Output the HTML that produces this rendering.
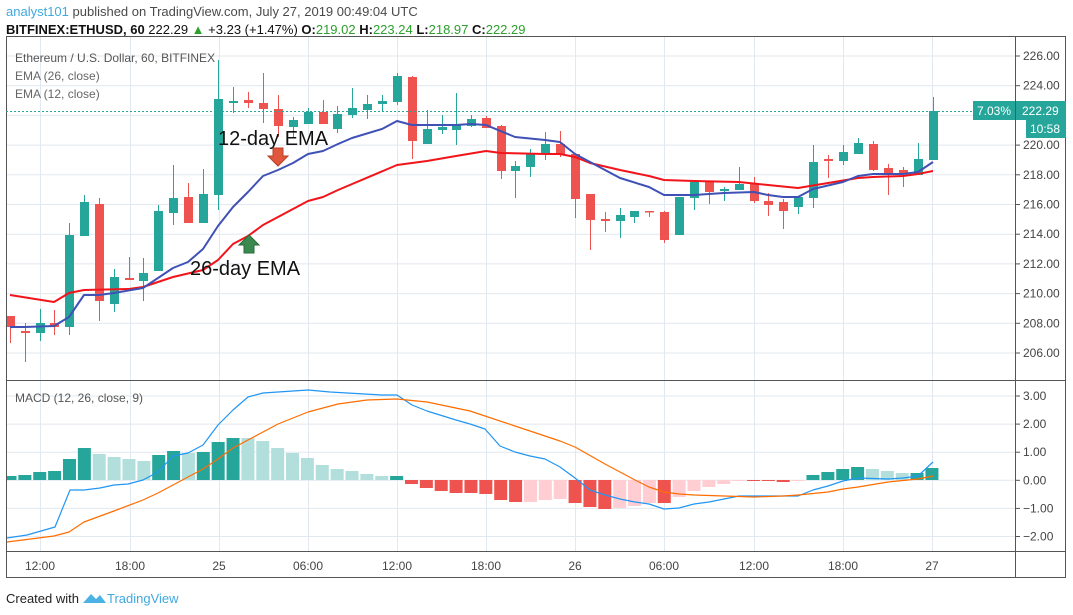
<!DOCTYPE html>
<html><head><meta charset="utf-8"><style>
html,body{margin:0;padding:0;background:#fff;width:1073px;height:615px;overflow:hidden;font-family:"Liberation Sans",sans-serif}
svg{position:absolute;left:0;top:0}
</style></head><body>
<svg id="s" width="1073" height="615" xmlns="http://www.w3.org/2000/svg" font-family="Liberation Sans, sans-serif">
<defs><clipPath id="cp"><rect x="7" y="381" width="1008" height="170"/></clipPath></defs>
<text x="6" y="16" font-size="13" fill="#4a4a4a"><tspan fill="#3fa9e0">analyst101</tspan> published on TradingView.com, July 27, 2019 00:49:04 UTC</text>
<text x="6" y="34" font-size="13" fill="#111" font-weight="bold">BITFINEX:ETHUSD, 60 <tspan font-weight="normal">222.29 </tspan><tspan fill="#2ca02c" font-weight="normal">▲</tspan><tspan font-weight="normal"> +3.23 (+1.47%) </tspan>O:<tspan fill="#2ca02c" font-weight="normal">219.02</tspan> H:<tspan fill="#2ca02c" font-weight="normal">223.24</tspan> L:<tspan fill="#2ca02c" font-weight="normal">218.97</tspan> C:<tspan fill="#2ca02c" font-weight="normal">222.29</tspan></text>
<g id="grid" stroke="#e1e8ef" stroke-width="1"></g>
<g id="hist" clip-path="url(#cp)"></g>
<g id="cand"></g>
<g id="lines" fill="none"></g>
<rect x="6.5" y="36.5" width="1059" height="541" fill="none" stroke="#555" stroke-width="1"/>
<line x1="1015.5" y1="36" x2="1015.5" y2="578" stroke="#555"/>
<line x1="6" y1="380.5" x2="1066" y2="380.5" stroke="#555"/>
<line x1="6" y1="551.5" x2="1066" y2="551.5" stroke="#555"/>
<line x1="6" y1="111.5" x2="1015" y2="111.5" stroke="#26a69a" stroke-dasharray="2,2"/>
<g font-size="12" fill="#444" id="plab"></g>
<rect x="973" y="101" width="42" height="19" fill="#26a69a"/>
<text x="1011" y="115" font-size="12" fill="#fff" text-anchor="end">7.03%</text>
<rect x="1016" y="101" width="50" height="19" fill="#26a69a"/>
<text x="1022" y="115" font-size="12" fill="#fff">222.29</text>
<rect x="1026" y="120" width="40" height="18" fill="#26a69a"/>
<text x="1030" y="133" font-size="12" fill="#fff">10:58</text>
<text x="15" y="62" font-size="12" fill="#555">Ethereum / U.S. Dollar, 60, BITFINEX</text>
<text x="15" y="80" font-size="12" fill="#666">EMA (26, close)</text>
<text x="15" y="98" font-size="12" fill="#666">EMA (12, close)</text>
<text x="15" y="402" font-size="12" fill="#555">MACD (12, 26, close, 9)</text>
<text x="218" y="145" font-size="20" fill="#111">12-day EMA</text>
<text x="190" y="275" font-size="20" fill="#111">26-day EMA</text>
<path d="M273 148h10v8h5l-10 10l-10-10h5z" fill="#e0573c" stroke="#b84028"/>
<path d="M249 235l10 10h-5v8h-10v-8h-5z" fill="#3a8a50" stroke="#2a6a3a"/>
<text x="6" y="603" font-size="13" fill="#222">Created with</text>
<path d="M83 603l8-9l5 5l4-4l6 8z" fill="#4bb3e4"/>
<text x="107" y="603" font-size="13" fill="#3fa9e0">TradingView</text>
</svg>
<script>
var NS="http://www.w3.org/2000/svg";
function el(g,t,a){var e=document.createElementNS(NS,t);for(var k in a)e.setAttribute(k,a[k]);document.getElementById(g).appendChild(e);return e;}
var tx=[40,130,219,308,397,486,575,664,754,843,932],tl=["12:00","18:00","25","06:00","12:00","18:00","26","06:00","12:00","18:00","27"];
tx.forEach(function(x,i){el("grid","line",{x1:x+.5,y1:37,x2:x+.5,y2:551});var t=el("plab","text",{x:x,y:570,"text-anchor":"middle"});t.textContent=tl[i];});
for(var p=206;p<=226;p+=2){var y=56+(226-p)*14.85;el("grid","line",{x1:7,y1:y,x2:1015,y2:y});el("grid","line",{x1:1015,y1:y,x2:1020,y2:y,stroke:"#555"});var t=el("plab","text",{x:1023,y:y+4});t.textContent=p.toFixed(2);}
for(var m=-2;m<=3;m++){var y=396+(3-m)*28.1;el("grid","line",{x1:7,y1:y,x2:1015,y2:y});el("grid","line",{x1:1015,y1:y,x2:1020,y2:y,stroke:"#555"});var t=el("plab","text",{x:1023,y:y+4});t.textContent=(m<0?"\u2212":"")+Math.abs(m).toFixed(2);}
var C=[[10,316,327,316,343,0],[25,331,333,323,362,0],[40,323,333,309,341,1],[54,323,327,310,335,0],[69,235,327,223,335,1],[84,202,236,195,236,1],[99,204,301,198,321,0],[114,277,304,269,312,1],[129,278,280,257,280,0],[143,273,281,258,301,1],[158,211,271,205,271,1],[173,198,213,165,225,1],[188,197,223,183,223,0],[203,194,223,169,223,1],[218,99,195,60,210,1],[233,101,103,87,113,1],[248,100,103,92,108,0],[263,103,109,73,123,0],[278,109,126,95,137,0],[293,120,127,117,137,1],[308,112,124,108,124,1],[323,112,124,100,124,0],[337,114,129,106,133,1],[352,108,115,88,118,1],[367,104,110,95,119,1],[382,101,104,95,111,1],[397,76,102,73,105,1],[412,77,141,76,159,0],[427,129,144,110,144,1],[442,127,130,115,134,1],[456,125,130,93,145,1],[471,119,126,115,127,1],[486,118,128,116,128,0],[501,126,171,125,179,0],[515,166,171,161,198,1],[530,154,167,149,177,1],[545,144,154,132,160,1],[560,144,154,131,157,0],[575,154,199,154,218,0],[590,194,220,194,250,0],[605,219,221,212,232,0],[620,215,221,208,238,1],[634,211,217,211,223,1],[649,211,212,211,217,0],[664,212,240,211,243,0],[679,197,235,197,235,1],[694,182,198,182,210,1],[709,182,192,182,204,0],[724,189,191,187,201,1],[739,184,190,167,190,1],[754,184,201,177,203,0],[768,201,205,193,216,0],[783,202,211,199,229,0],[798,197,207,197,214,1],[813,162,198,145,208,1],[828,159,161,155,178,0],[843,152,161,145,165,1],[858,143,154,138,154,1],[873,144,170,141,171,0],[888,168,173,164,195,0],[903,170,174,167,187,0],[918,159,175,143,175,1],[933,111,160,97,160,1]];
C.forEach(function(c){var col=c[5]?"#26a69a":"#ef5350";el("cand","line",{x1:c[0]+.5,y1:c[3],x2:c[0]+.5,y2:c[4],stroke:col});el("cand","rect",{x:c[0]-4,y:c[1],width:9,height:Math.max(1.5,c[2]-c[1]),fill:col});});
var H=[[476,0],[475,0],[472,0],[471,0],[459,0],[448,0],[454,1],[457,1],[459,1],[461,1],[455,0],[451,0],[453,1],[452,0],[442,0],[438,0],[438,1],[441,1],[448,1],[453,1],[458,1],[465,1],[469,1],[471,1],[474,1],[476,1],[476,0],[484,2],[488,2],[491,2],[493,2],[493,2],[494,2],[500,2],[502,2],[502,3],[500,3],[499,3],[503,2],[507,2],[509,2],[508,3],[506,3],[503,3],[503,2],[497,3],[491,3],[487,3],[484,3],[481,3],[481,2],[481,2],[482,2],[481,3],[475,0],[472,0],[469,0],[467,0],[469,1],[471,1],[473,1],[473,0],[468,0]];
var HC=["#26a69a","#b2dfdb","#ef5350","#ffcdd2"],Z=480;
H.forEach(function(h,i){var x=10+i*14.87;var y1=Math.min(h[0],Z),y2=Math.max(h[0],Z);el("hist","rect",{x:x-6.5,y:y1,width:13,height:Math.max(1,y2-y1),fill:HC[h[1]]});});
function pl(pts,col,w){el("lines","polyline",{points:pts,stroke:col,"stroke-width":w,"stroke-linejoin":"round"});}
pl("10,295 54,302 69,293 84,290 129,289 143,287 173,277 203,270 218,260 233,244 248,236 263,225 278,217 308,201 323,197 338,190 397,165 427,161 456,156 486,151 501,153 545,154 560,154 575,157 590,163 620,170 649,176 664,180 694,181 739,182 768,185 798,188 828,183 858,178 873,177 903,176 918,174 933,171","#f2141a",2);
pl("10,327 25,327 54,326 69,317 84,295 99,295 114,293 143,288 173,268 188,262 203,249 218,226 233,207 248,192 263,176 278,170 293,163 308,154 323,151 338,144 352,138 382,129 397,121 412,125 427,125 456,125 471,124 486,125 515,137 545,140 560,142 575,154 590,162 620,178 649,187 664,195 694,195 724,193 754,192 768,195 783,197 798,197 813,189 843,182 858,176 873,174 903,174 918,172 933,162","#3f51b5",2);
pl("7,538 27,535 55,527 70,490 84,490 100,488 114,485 128,484 143,480 158,472 173,456 188,453 203,445 218,425 233,410 248,397 263,393 308,390 330,392 382,395 397,395 412,405 427,411 456,420 470,424 485,429 500,446 515,452 530,456 545,459 560,467 575,478 590,490 605,495 620,499 635,502 649,504 664,509 679,508 694,504 709,502 724,499 739,496 798,496 813,490 828,486 843,481 858,478 888,479 903,478 918,476 933,462","#2196f3",1.2);
pl("7,542 54,536 69,532 84,522 114,511 143,500 158,493 173,485 188,477 203,469 218,459 233,448 263,432 278,424 308,412 338,404 367,400 397,399 427,402 470,411 485,416 515,426 545,436 560,441 575,447 605,464 635,480 649,487 664,492 679,494 694,495 724,496 754,497 783,496 798,495 828,492 843,489 858,487 888,482 918,479 933,476","#ff6d00",1.2);
</script>
</body></html>
